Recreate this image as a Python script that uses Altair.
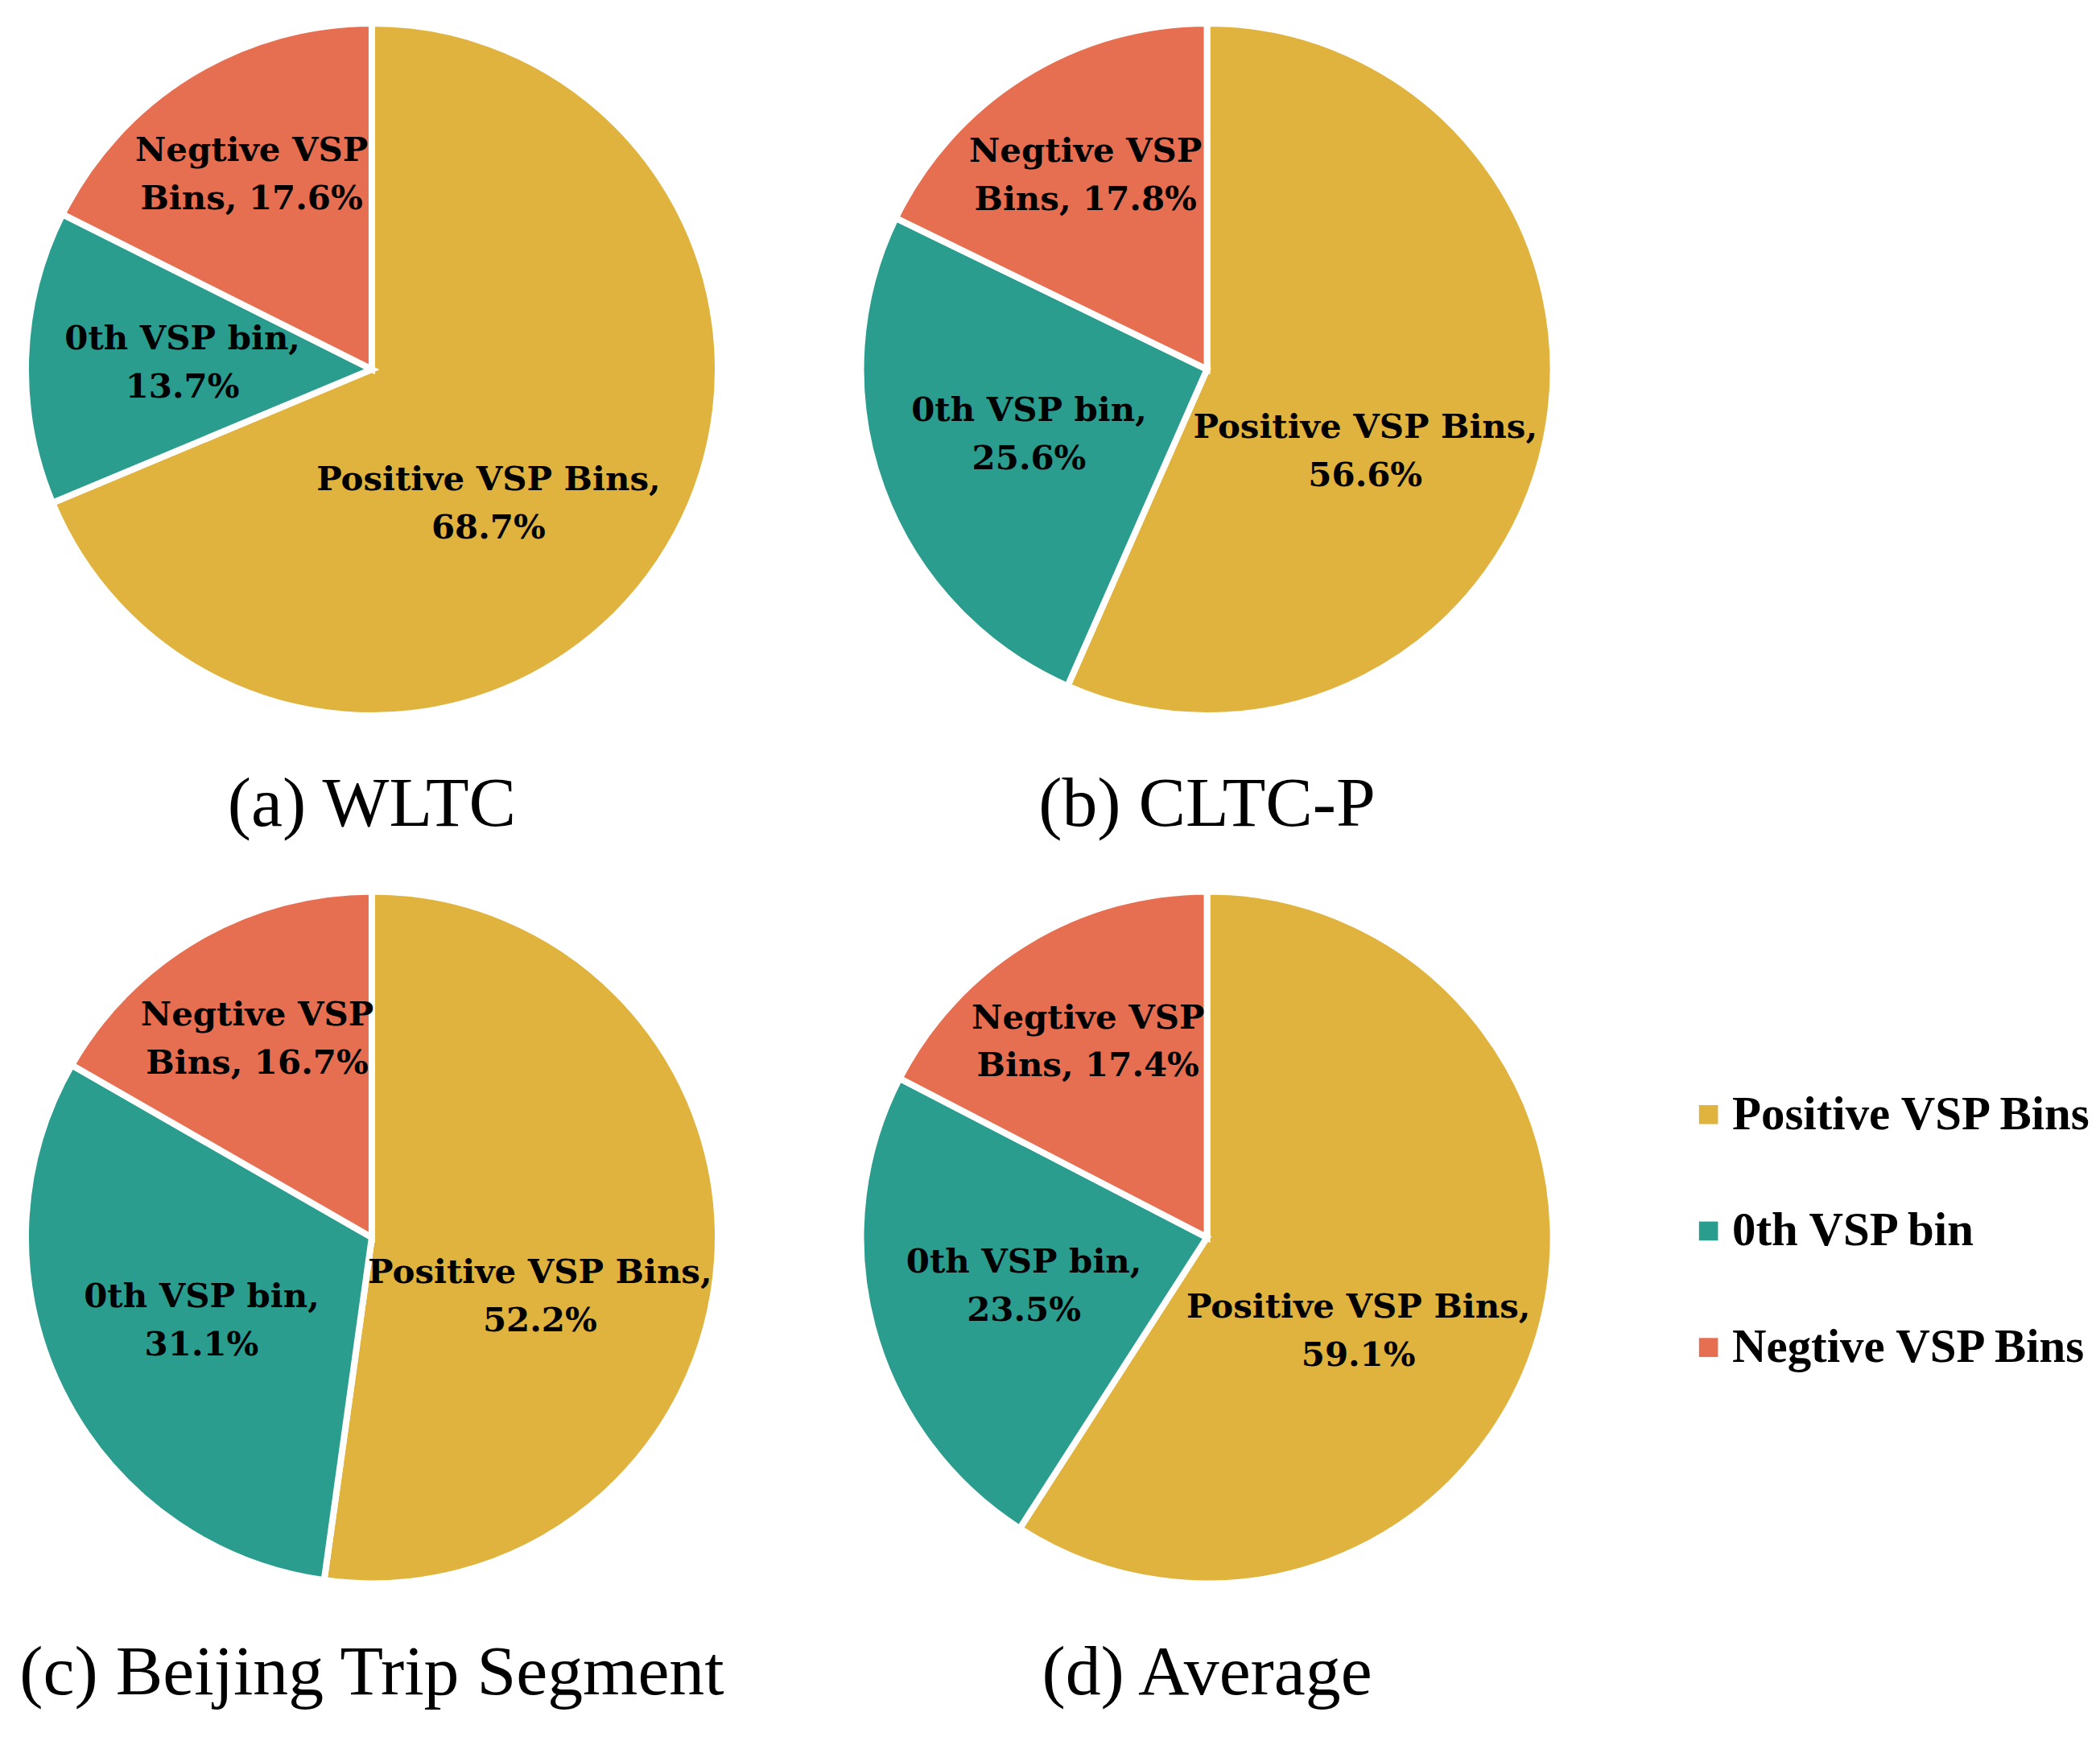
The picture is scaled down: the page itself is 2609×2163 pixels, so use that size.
import altair as alt
import pandas as pd

categories = ["Positive VSP Bins", "0th VSP bin", "Negtive VSP Bins"]
panel_titles = ["(a) WLTC", "(b) CLTC-P", "(c) Beijing Trip Segment", "(d) Average"]
wltc = [68.7, 13.7, 17.6]
cltc_p = [56.6, 25.6, 17.8]
beijing = [52.2, 31.1, 16.7]
average = [59.1, 23.5, 17.4]
label_line1 = ["Positive VSP Bins,", "0th VSP bin,", "Negtive VSP"]
label_line2_prefix = ["", "", "Bins, "]
colors = ["#E0B33E", "#2A9D8F", "#E76F51"]

series = [wltc, cltc_p, beijing, average]

PANEL_W, PANEL_H = 910, 899
PIE_R = 431
# label placement (style): distance from the centre per category, and a small
# angular shift for the large slice's label (Excel "best fit"-like placement)
LABEL_R_EXPR = ("datum.category === 'Positive VSP Bins' ? 222 : "
                "(datum.category === '0th VSP bin' ? 236 : 285)")
LABEL_SHIFT_EXPR = "datum.category === 'Positive VSP Bins' ? 4.3 : 0"
LINE_H = 60


def make_panel(title, values):
    df = pd.DataFrame({
        "category": categories,
        "value": values,
        "idx": list(range(len(categories))),
        "label": [f"{l1}\n{p}{v:.1f}%" for l1, p, v in zip(label_line1, label_line2_prefix, values)],
    })
    base = alt.Chart(df)
    arc = base.mark_arc(radius=PIE_R, stroke="white", strokeWidth=8).encode(
        theta=alt.Theta("value:Q", stack=True, scale=alt.Scale(domain=[0, 100])),
        color=alt.Color(
            "category:N",
            scale=alt.Scale(domain=categories, range=colors),
            legend=alt.Legend(
                title=None,
                orient="none",
                legendX=2090,
                legendY=1348,
                symbolType="square",
                symbolSize=560,
                symbolStrokeWidth=0,
                labelFont="Liberation Serif",
                labelFontWeight="bold",
                labelFontSize=59,
                labelColor="black",
                labelOffset=0,
                rowPadding=85,
                padding=0,
                labelLimit=1000,
            ),
        ),
        order=alt.Order("idx:Q"),
    )
    text = base.transform_window(
        cum="sum(value)",
        sort=[alt.SortField("idx")],
        frame=[None, 0],
    ).transform_calculate(
        mid=f"datum.cum - datum.value / 2 + ({LABEL_SHIFT_EXPR})",
        r=LABEL_R_EXPR,
    ).mark_text(
        font="DejaVu Serif",
        fontWeight="bold",
        fontSize=42,
        lineBreak="\n",
        lineHeight=LINE_H,
        align="center",
        baseline="middle",
        dy=-LINE_H / 2,
        color="black",
    ).encode(
        theta=alt.Theta("mid:Q", stack=None, scale=alt.Scale(domain=[0, 100])),
        radius=alt.Radius("r:Q", scale=None),
        text="label:N",
    )
    return alt.layer(arc, text).properties(
        width=PANEL_W,
        height=PANEL_H,
        title=alt.TitleParams(
            title,
            orient="bottom",
            anchor="middle",
            font="Liberation Serif",
            fontSize=88,
            fontWeight="normal",
            color="black",
            offset=49,
        ),
    )


panels = [make_panel(t, v) for t, v in zip(panel_titles, series)]

chart = alt.vconcat(
    alt.hconcat(panels[0], panels[1], spacing=130),
    alt.hconcat(panels[2], panels[3], spacing=130),
    spacing=45,
).properties(padding=0).configure_view(stroke=None)

chart.save("out.html", embed_options={"renderer": "svg", "actions": False})
